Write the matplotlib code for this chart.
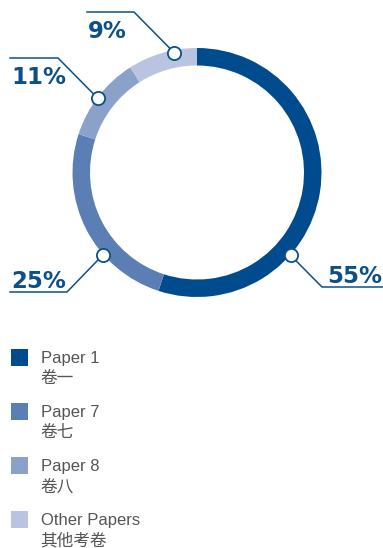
import matplotlib.pyplot as plt
import numpy as np

# data
papers = ['Paper 1', 'Paper 7', 'Paper 8', 'Other Papers']
papers_zh = ['卷一', '卷七', '卷八', '其他考卷']
shares = [55, 25, 11, 9]
colors = ['#004b8d', '#5b7eb4', '#8aa2c9', '#b9c5e0']

W, H = 383, 548
fig = plt.figure(figsize=(W / 100, H / 100), dpi=100)
ax = fig.add_axes([0, 0, 1, 1])

cx, cy, r = 197, H - 172.5, 124.5
ax.pie(shares, colors=colors, startangle=90, counterclock=False,
       radius=r, center=(cx, cy), frame=True,
       wedgeprops=dict(width=17.5, linewidth=0))
ax.set_xlim(0, W)
ax.set_ylim(0, H)
ax.set_aspect('equal')
ax.axis('off')

# label leaders: marker angle, marker radius, elbow point, end x, text side
lab_color = '#0b4f8b'
leaders = [
    (-41.5, 125, (322, H - 287), 383, 'right', 'above'),
    (221.2, 125, (67, H - 292), 10, 'left', 'above'),
    (143.2, 124, (58, H - 58), 10, 'left', 'below'),
    (100.8, 122, (134, H - 12), 87, 'left', 'below'),
]
for val, (ang, rm, elbow, xend, ha, side) in zip(shares, leaders):
    mx = cx + rm * np.cos(np.radians(ang))
    my = cy + rm * np.sin(np.radians(ang))
    ax.plot([mx, elbow[0], xend], [my, elbow[1], elbow[1]],
            color=lab_color, lw=1.1, zorder=3)
    ax.plot(mx, my, 'o', ms=9.5, mfc='white', mec=lab_color, mew=1.3, zorder=4)
    tx = xend - 1 if ha == 'right' else xend + 1
    if side == 'above':
        ty, va = elbow[1] + 4, 'baseline'
    else:
        ty, va = elbow[1] - 8, 'top'
    ax.text(tx, ty, f'{val}%', ha=ha, va=va,
            fontsize=16.5, fontweight='bold', color=lab_color,
            family='DejaVu Sans')

# legend
for i, (en, zh, c) in enumerate(zip(papers, papers_zh, colors)):
    y0 = H - (358 + i * 54)
    ax.add_patch(plt.Rectangle((11, y0 - 8), 17, 17, color=c, lw=0))
    ax.text(41, y0, en, va='center', ha='left', fontsize=12,
            color='#555555', family='Liberation Sans')
    ax.text(40, y0 - 21, zh, va='center', ha='left', fontsize=12,
            color='#555555', fontweight='light',
            family=['Noto Sans CJK SC', 'DejaVu Sans'])

fig.savefig('out.png', dpi=100)
